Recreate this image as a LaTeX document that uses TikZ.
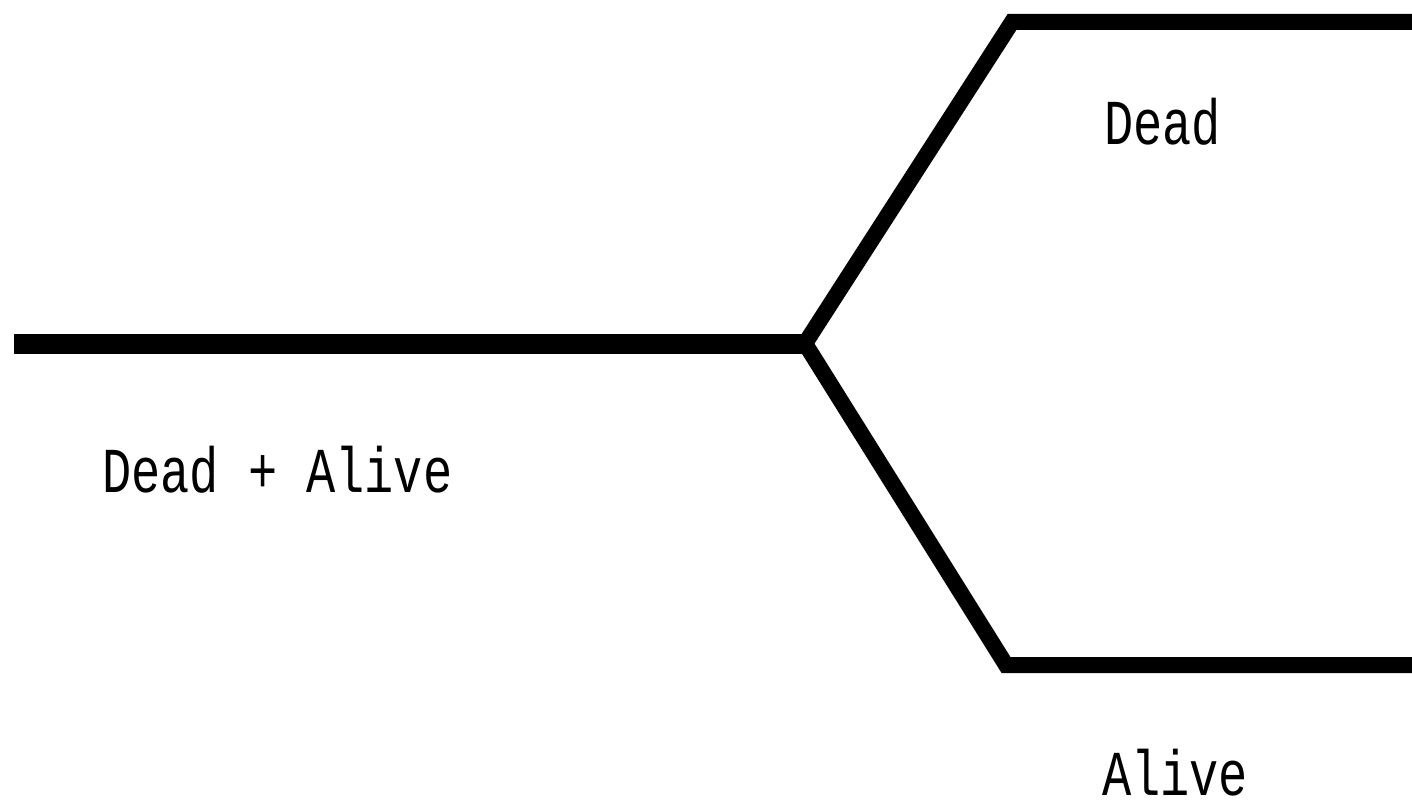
\documentclass[tikz,border=0pt]{standalone}
\usepackage{fontspec}
\newfontfamily\pixfont{Liberation Mono}
\begin{document}
\begin{tikzpicture}[x=1pt,y=-1pt,
  branch/.style={line width=16pt,line cap=butt,line join=miter},
  trunk/.style={line width=20pt,line cap=butt},
  lbl/.style={inner sep=0pt,anchor=base west,font=\pixfont\fontsize{64}{64}\selectfont,xscale=0.76}]
\useasboundingbox (0,0) rectangle (1412,808);
\coordinate (s) at (14,343.5);
\coordinate (j) at (805,343.5);
\coordinate (ut) at (1012,22);
\coordinate (ue) at (1412,22);
\coordinate (lt) at (1006,665);
\coordinate (le) at (1412,665);
\draw[trunk] (s) -- (j);
\draw[branch] (j) -- (ut) -- (ue);
\draw[branch] (j) -- (lt) -- (le);
\node[lbl] (dead) at (1104,144) {Dead};
\node[lbl] (both) at (102,492) {Dead + Alive};
\node[lbl] (alive) at (1102,795) {Alive};
\end{tikzpicture}
\end{document}
